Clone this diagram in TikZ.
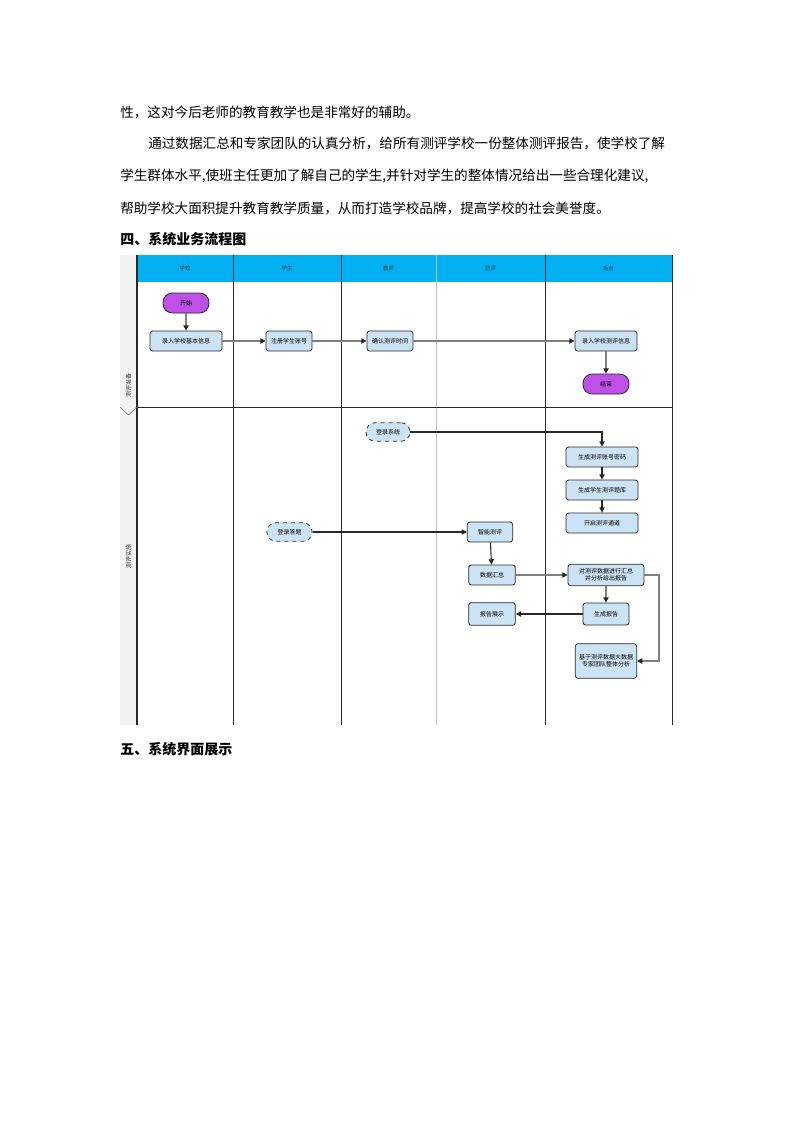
\documentclass[tikz,border=0pt]{standalone}
\usepackage{fontspec}
\setmainfont{Noto Sans CJK SC}
\usetikzlibrary{arrows.meta, positioning}
\XeTeXlinebreaklocale "zh"
\XeTeXlinebreakskip=0pt plus 2pt
\definecolor{headerblue}{RGB}{0, 176, 240}
\definecolor{bandgray}{RGB}{242, 242, 242}
\definecolor{taskblue}{RGB}{204, 227, 246}
\definecolor{termpurple}{RGB}{190, 80, 232}
\definecolor{flowgray}{RGB}{128, 128, 128}
\definecolor{edgedark}{RGB}{40, 40, 40}
\tikzset{
    bodytext/.style={
        anchor=west,
        inner sep=0pt,
        align=justify,
        font=\fontsize{10.2}{12}\selectfont
    },
    heading/.style={
        anchor=west,
        inner sep=0pt,
        font=\fontsize{10.5}{12}\selectfont\bfseries
    },
    lanehead/.style={
        font=\fontsize{4}{5}\selectfont,
        text=black!80
    },
    lanelabel/.style={
        rotate=90,
        font=\fontsize{4.5}{5}\selectfont,
        text=black!80
    },
    task/.style={
        rectangle,
        rounded corners=2pt,
        minimum height=15pt,
        inner sep=1pt,
        align=center,
        draw=edgedark,
        line width=0.6pt,
        fill=taskblue,
        font=\fontsize{4.5}{5.5}\selectfont
    },
    terminal/.style={
        task,
        rounded corners=7pt,
        fill=termpurple
    },
    entry/.style={
        task,
        rounded corners=7pt,
        dashed
    },
    grayarrow/.style={
        line width=1.5pt,
        color=flowgray,
        -{Triangle[length=4pt, width=4pt, color=edgedark]}
    },
    darkarrow/.style={
        line width=0.8pt,
        color=edgedark,
        -{Triangle[length=4pt, width=4pt]}
    }
}

\begin{document}
\begin{tikzpicture}[x=0.75pt, y=-0.75pt]
    \useasboundingbox (0,0) rectangle (793,1122);

    % Text of the page
    \node[bodytext, text width=393.75pt] (line2) at (148,143) {\parfillskip=0pt 通过数据汇总和专家团队的认真分析，给所有测评学校一份整体测评报告，使学校了解};
    \node[bodytext, text width=414.75pt] (line3) at (120,176) {\parfillskip=0pt 学生群体水平,使班主任更加了解自己的学生,并针对学生的整体情况给出一些合理化建议,};
    \node[bodytext] (line1) at (120,112) {性，这对今后老师的教育教学也是非常好的辅助。};
    \node[bodytext] (line4) at (120,208) {帮助学校大面积提升教育教学质量，从而打造学校品牌，提高学校的社会美誉度。};
    \node[heading] (sec4) at (120,239) {四、系统业务流程图};
    \node[heading] (sec5) at (120,749) {五、系统界面展示};

    % Swimlane frame
    \fill[bandgray] (120,255) rectangle (137,725);
    \fill[headerblue] (137,255) rectangle (672,282);
    \foreach \x in {233, 341, 545, 672}
        \draw[edgedark, line width=0.7pt] (\x,255) -- (\x,725);
    \draw[black!25, line width=0.7pt] (436,255) -- (436,725);
    \draw[edgedark, line width=1.5pt] (137,255) -- (137,725);
    \draw[edgedark, line width=0.7pt] (137,407) -- (672,407);
    \draw[flowgray, line width=0.5pt] (120,407) -- (128.5,415) -- (137,407);

    % Lane headers and labels
    \foreach \name/\x in {学校/185, 学生/287, 教师/388.5, 测评/490.5, 后台/608.5}
        \node[lanehead] (head\x) at (\x,268.5) {\name};
    \node[lanelabel] (lanetop) at (128.5,385) {测评准备};
    \node[lanelabel] (lanebottom) at (128.5,556) {测评实施};

    % Define nodes of the first lane
    \node[terminal, minimum width=34.5pt] (start) at (186,303) {开始};
    \node[task, minimum width=54pt] (schoolinfo) at (186,341) {录入学校基本信息};
    \node[task, minimum width=34.5pt] (register) at (289,341) {注册学生账号};
    \node[task, minimum width=34.5pt] (confirm) at (390,341) {确认测评时间};
    \node[task, minimum width=46.5pt] (plan) at (606,341) {录入学校测评信息};
    \node[terminal, minimum width=34.5pt] (stop) at (606,384) {结束};

    % Define nodes of the second lane
    \node[entry, minimum width=33pt, minimum height=14pt] (login) at (388,432) {登录系统};
    \node[task, minimum width=54pt] (account) at (602,457) {生成测评账号密码};
    \node[task, minimum width=54pt] (bank) at (602,490) {生成学生测评题库};
    \node[task, minimum width=54pt] (channel) at (602,523) {开启测评通道};
    \node[entry, minimum width=34pt, minimum height=14pt] (answer) at (289.5,532) {登录答题};
    \node[task, minimum width=34pt] (smart) at (490,532) {智能测评};
    \node[task, minimum width=35pt] (summary) at (492,575) {数据汇总};
    \node[task, minimum width=57pt, minimum height=16pt] (analysis) at (606,575) {对测评数据进行汇总\\并分析给出报告};
    \node[task, minimum width=34.5pt, minimum height=16.5pt] (report) at (606,614) {生成报告};
    \node[task, minimum width=35pt, minimum height=17pt] (show) at (492,614) {报告展示};
    \node[task, minimum width=46pt, minimum height=26pt] (bigdata) at (606,661) {基于测评数据大数据\\专家团队整体分析};
    \coordinate (bend) at (659,575);

    % Draw connectors
    \draw[grayarrow] (start) -- (schoolinfo);
    \draw[grayarrow] (schoolinfo) -- (register);
    \draw[grayarrow] (register) -- (confirm);
    \draw[grayarrow] (confirm) -- (plan);
    \draw[grayarrow] (plan) -- (stop);
    \draw[darkarrow] (login) -| (account);
    \draw[darkarrow] (account) -- (bank);
    \draw[darkarrow] (bank) -- (channel);
    \draw[darkarrow] (answer) -- (smart);
    \draw[darkarrow] (smart) -- (summary);
    \draw[grayarrow] (summary) -- (analysis);
    \draw[grayarrow] (analysis) -- (report);
    \draw[darkarrow] (report) -- (show);
    \draw[grayarrow] (analysis) -- (bend) |- (bigdata);

\end{tikzpicture}
\end{document}
